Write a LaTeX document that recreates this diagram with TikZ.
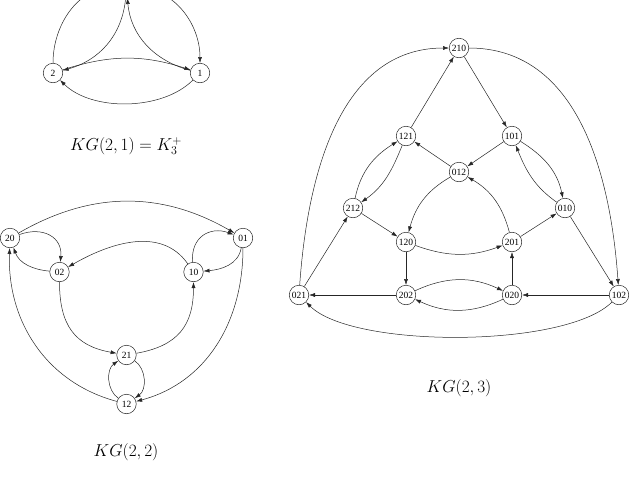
\documentclass[tikz,border=0pt]{standalone}
\usepackage{fontspec}
\newfontfamily\nodefont{Liberation Serif}
\usetikzlibrary{arrows.meta}
\begin{document}
\begin{tikzpicture}[x=1pt,y=1pt,
  vtx/.style={circle,draw=black!85,line width=0.5pt,minimum size=19.5pt,inner sep=0pt,font=\nodefont\fontsize{9.5}{10}\selectfont},
  arc/.style={draw=black!85,line width=0.5pt,-{Latex[length=6pt,width=4pt]}},
  lbl/.style={font=\fontsize{17.5}{20}\selectfont}]
\useasboundingbox (0,0) rectangle (633,-477);
\clip (0,0) rectangle (633,-477);
% ---------- KG(2,1) (top vertex lies above the visible frame)
\node[vtx] (n0) at (126.5,12) {};
\node[vtx] (n2) at (53,-73) {2};
\node[vtx] (n1) at (200,-73) {1};
\draw[arc] (n2) to[out=90,in=180] (n0);
\draw[arc] (n0) to[out=-95,in=15] (n2);
\draw[arc] (n0) to[out=0,in=90] (n1);
\draw[arc] (n1) to[out=165,in=-85] (n0);
\draw[arc] (n2) to[out=18,in=162] (n1);
\draw[arc] (n1) to[out=-135,in=-45,looseness=0.85] (n2);
\node[lbl] (t1) at (126,-146) {$KG(2,1)=K_3^+$};
% ---------- KG(2,2)
\node[vtx] (a20) at (10,-238) {20};
\node[vtx] (a01) at (243,-238) {01};
\node[vtx] (a02) at (59.5,-272) {02};
\node[vtx] (a10) at (193.5,-272) {10};
\node[vtx] (a21) at (126.5,-355) {21};
\node[vtx] (a12) at (126.5,-404) {12};
\draw[arc] (a20) to[out=30,in=150] (a01);
\draw[arc] (a20) to[out=20,in=85,looseness=1.3] (a02);
\draw[arc] (a02) to[out=175,in=-70] (a20);
\draw[arc] (a10) to[out=125,in=30] (a02);
\draw[arc] (a10) to[out=95,in=160,looseness=1.3] (a01);
\draw[arc] (a01) to[out=-100,in=5] (a10);
\draw[arc] (a02) to[out=-90,in=170,looseness=1.2] (a21);
\draw[arc] (a21) to[out=10,in=-90,looseness=1.2] (a10);
\draw[arc] (a01) to[out=-90,in=15] (a12);
\draw[arc] (a12) to[out=165,in=-92] (a20);
\draw[arc] (a21) to[out=-35,in=35] (a12);
\draw[arc] (a12) to[out=145,in=-145] (a21);
\node[lbl] (t2) at (126,-452) {$KG(2,2)$};
% ---------- KG(2,3)
\node[vtx] (b210) at (459,-48) {210};
\node[vtx] (b121) at (406,-136) {121};
\node[vtx] (b101) at (512,-136) {101};
\node[vtx] (b012) at (459,-172) {012};
\node[vtx] (b212) at (353,-208) {212};
\node[vtx] (b010) at (565,-208) {010};
\node[vtx] (b120) at (406,-242) {120};
\node[vtx] (b201) at (512,-242) {201};
\node[vtx] (b021) at (299,-295) {021};
\node[vtx] (b202) at (406,-295) {202};
\node[vtx] (b020) at (512,-295) {020};
\node[vtx] (b102) at (619,-295) {102};
\draw[arc] (b210) -- (b101);
\draw[arc] (b121) -- (b210);
\draw[arc] (b012) -- (b121);
\draw[arc] (b101) -- (b012);
\draw[arc] (b212) -- (b120);
\draw[arc] (b021) -- (b212);
\draw[arc] (b202) -- (b021);
\draw[arc] (b120) -- (b202);
\draw[arc] (b020) -- (b201);
\draw[arc] (b201) -- (b010);
\draw[arc] (b010) -- (b102);
\draw[arc] (b102) -- (b020);
\draw[arc] (b021) to[out=86,in=180] (b210);
\draw[arc] (b210) to[out=0,in=94] (b102);
\draw[arc] (b102) to[out=-135,in=-45,looseness=0.55] (b021);
\draw[arc] (b212) to[out=78,in=-148] (b121);
\draw[arc] (b121) to[out=-112,in=35] (b212);
\draw[arc] (b101) to[out=-32,in=102] (b010);
\draw[arc] (b010) to[out=145,in=-68] (b101);
\draw[arc] (b012) to[out=-150,in=75] (b120);
\draw[arc] (b201) to[out=105,in=-30] (b012);
\draw[arc] (b120) to[out=-20,in=-160] (b201);
\draw[arc] (b202) to[out=25,in=155] (b020);
\draw[arc] (b020) to[out=-155,in=-25] (b202);
\node[lbl] (t3) at (459,-388) {$KG(2,3)$};
\end{tikzpicture}
\end{document}
